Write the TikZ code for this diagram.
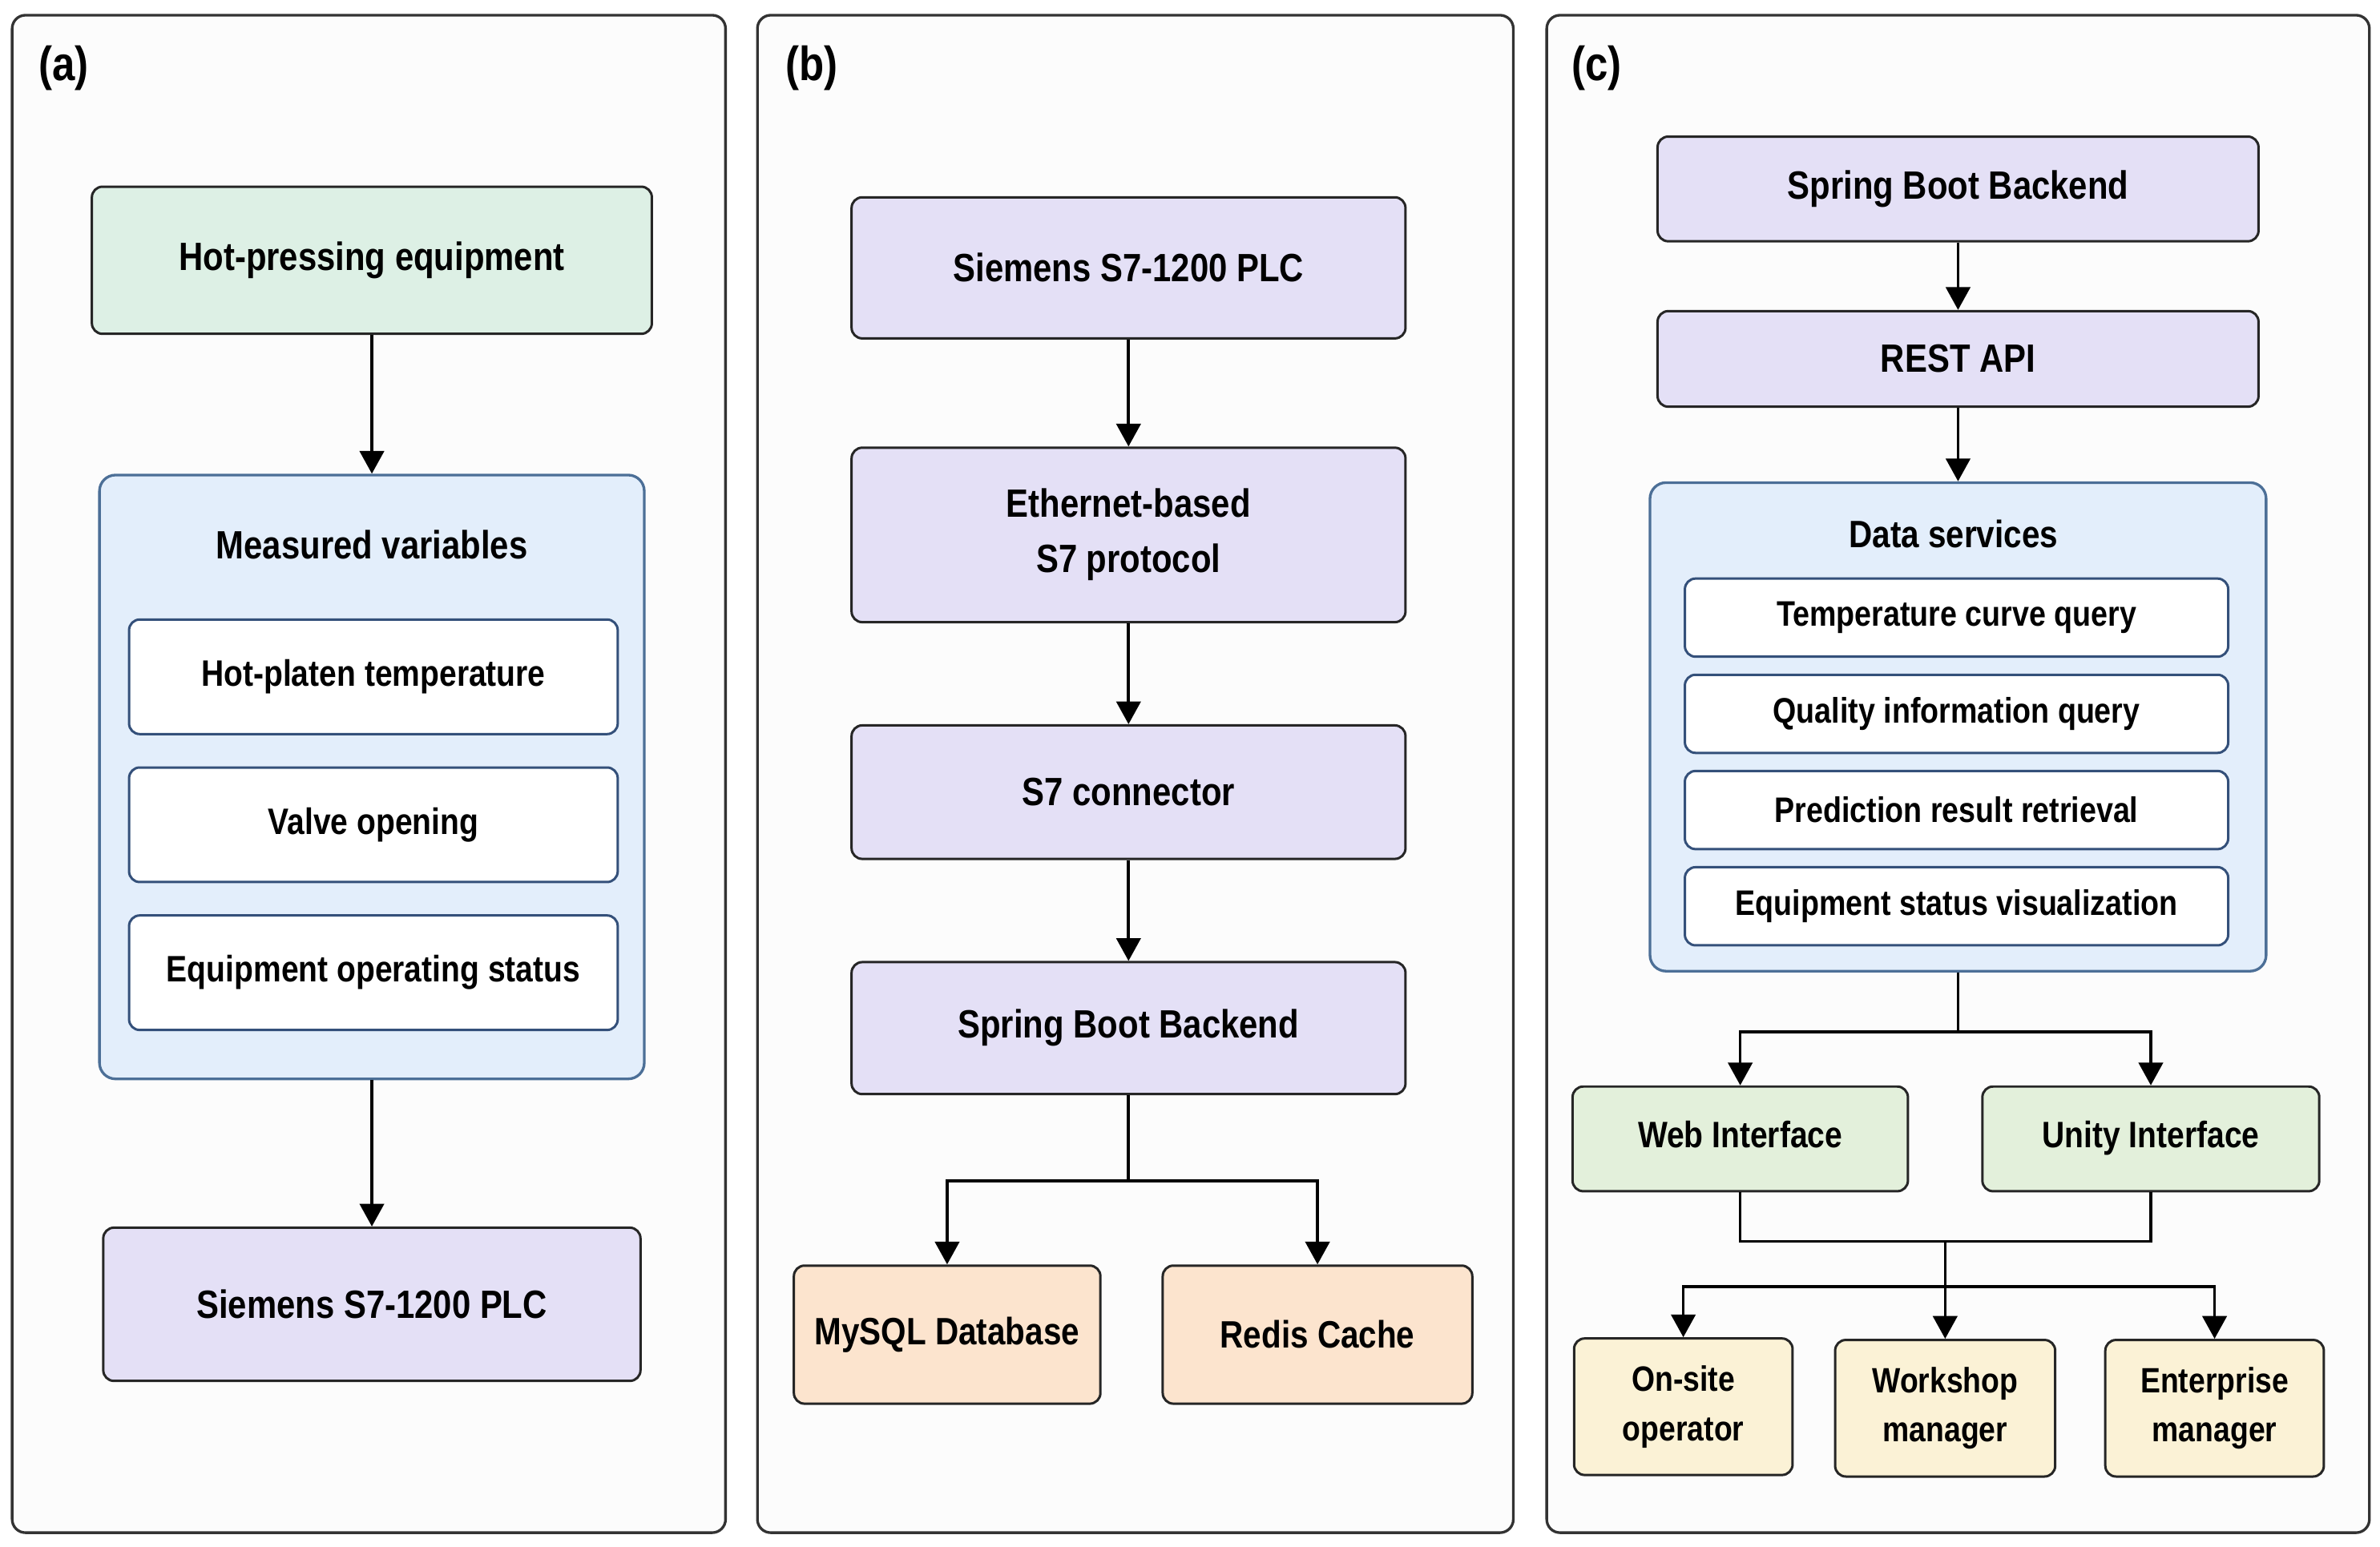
\documentclass[tikz,border=0pt]{standalone}
\usepackage{fontspec}
\setmainfont{Liberation Sans}[FakeStretch=0.85]
\usepackage{xcolor}
\usepackage{tikz}
\usetikzlibrary{arrows.meta, calc}

\definecolor{mintfill}{HTML}{DDF0E5}
\definecolor{bluefill}{HTML}{E3EEFB}
\definecolor{blueedge}{HTML}{4C6F97}
\definecolor{itemedge}{HTML}{34507A}
\definecolor{lilacfill}{HTML}{E4E0F6}
\definecolor{peachfill}{HTML}{FCE4CE}
\definecolor{sagefill}{HTML}{E3F0DB}
\definecolor{creamfill}{HTML}{FBF2D6}

\newcommand{\fsz}[1]{\fontsize{#1}{\dimexpr #1pt*7/5\relax}\selectfont\bfseries}

\tikzset{
  panel/.style={draw=black!80, line width=1pt, rounded corners=5pt, fill=black!1},
  tag/.style={font=\fontsize{18}{20}\selectfont\bfseries},
  box/.style={draw=black!85, line width=0.9pt, rounded corners=4pt, align=center,
    inner sep=2pt, font=\fsz{14.8}},
  mintbox/.style={box, fill=mintfill},
  lilacbox/.style={box, fill=lilacfill},
  peachbox/.style={box, fill=peachfill, font=\fsz{14.3}},
  sagebox/.style={box, fill=sagefill, font=\fsz{13.8}, text height=1.6ex, text depth=0.4ex},
  creambox/.style={box, fill=creamfill, font=\fsz{13.2}},
  group/.style={draw=blueedge, line width=1pt, rounded corners=6pt, fill=bluefill},
  item/.style={box, draw=itemedge, fill=white, font=\fsz{13.8}},
  arr/.style={-{Triangle[length=3mm,width=3.2mm]}, line width=1.1pt},
  wire/.style={line width=1.1pt}
}

\begin{document}
\begin{tikzpicture}[x=0.02cm, y=-0.02cm]
\useasboundingbox (0,0) rectangle (1568,1019);

% Panels
\draw[panel] (8,10) rectangle (478,1010);
\draw[panel] (499,10) rectangle (997,1010);
\draw[panel] (1019,10) rectangle (1561,1010);
\node[tag] (taga) at (42,45) {(a)};
\node[tag] (tagb) at (535,45) {(b)};
\node[tag] (tagc) at (1052,45) {(c)};

% (a) acquisition side
\node[mintbox, minimum width=7.38cm, minimum height=1.94cm] (hp) at (245,171.5) {Hot-pressing equipment};
\node[group, minimum width=7.18cm, minimum height=7.96cm] (meas) at (245,512) {};
\node[font=\fsz{14.8}] (meastitle) at (245,359) {Measured variables};
\foreach \t [count=\i] in {Hot-platen temperature, Valve opening, Equipment operating status}
  \node[item, minimum width=6.44cm, minimum height=1.51cm] (va\i) at (246,{446+97.5*(\i-1)}) {\t};
\node[lilacbox, minimum width=7.08cm, minimum height=2.02cm] (plca) at (245,859.5) {Siemens S7-1200 PLC};

\draw[arr] (hp) -- (meas);
\draw[arr] (meas) -- (plca);

% (b) communication chain
\node[lilacbox, minimum width=7.3cm, minimum height=1.86cm] (plcb) at (743.5,176.5) {Siemens S7-1200 PLC};
\node[lilacbox, minimum width=7.3cm, minimum height=2.3cm] (eth) at (743.5,352.5) {Ethernet-based\\S7 protocol};
\node[lilacbox, minimum width=7.3cm, minimum height=1.76cm] (conn) at (743.5,522) {S7 connector};
\node[lilacbox, minimum width=7.3cm, minimum height=1.74cm] (sbb) at (743.5,677.5) {Spring Boot Backend};
\node[peachbox, minimum width=4.04cm, minimum height=1.82cm] (mysql) at (624,879.5) {MySQL Database};
\node[peachbox, minimum width=4.08cm, minimum height=1.82cm] (redis) at (868,879.5) {Redis Cache};

\draw[arr] (plcb) -- (eth);
\draw[arr] (eth) -- (conn);
\draw[arr] (conn) -- (sbb);
\coordinate (bsplit) at (743.5,778);
\draw[wire] (sbb.south) -- (bsplit);
\draw[arr] (bsplit) -| (mysql.north);
\draw[arr] (bsplit) -| (redis.north);

% (c) service side
\node[lilacbox, minimum width=7.92cm, minimum height=1.38cm] (sbbc) at (1290,124.5) {Spring Boot Backend};
\node[lilacbox, minimum width=7.92cm, minimum height=1.26cm] (rest) at (1290,236.5) {REST API};
\node[group, minimum width=8.12cm, minimum height=6.44cm] (ds) at (1290,479) {};
\node[font=\fsz{14.3}] (dstitle) at (1287,352) {Data services};
\foreach \t [count=\i] in {Temperature curve query, Quality information query, Prediction result retrieval, Equipment status visualization}
  \node[item, font=\fsz{13.3}, minimum width=7.16cm, minimum height=1.03cm] (ds\i) at (1289,{407+63.4*(\i-1)}) {\t};
\node[sagebox, minimum width=4.42cm, minimum height=1.38cm] (web) at (1146.5,750.5) {Web Interface};
\node[sagebox, minimum width=4.44cm, minimum height=1.38cm] (unity) at (1417,750.5) {Unity Interface};
\node[creambox, minimum width=2.88cm, minimum height=1.8cm] (oper) at (1109,927) {On-site\\operator};
\node[creambox, minimum width=2.9cm, minimum height=1.8cm] (wsm) at (1281.5,928) {Workshop\\manager};
\node[creambox, minimum width=2.88cm, minimum height=1.8cm] (entm) at (1459,928) {Enterprise\\manager};

\draw[arr] (sbbc) -- (rest);
\draw[arr] (rest) -- (ds);
\coordinate (csplit) at (1290,680);
\draw[wire] (ds.south) -- (csplit);
\draw[arr] (csplit) -| (web.north);
\draw[arr] (csplit) -| (unity.north);
\coordinate (cmerge) at (1281.5,818);
\coordinate (cfan) at (1281.5,848);
\draw[wire] (web.south) |- (cmerge);
\draw[wire] (unity.south) |- (cmerge);
\draw[wire] (cmerge) -- (cfan);
\draw[arr] (cfan) -| (oper.north);
\draw[arr] (cfan) -- (wsm.north);
\draw[arr] (cfan) -| (entm.north);

\end{tikzpicture}
\end{document}
